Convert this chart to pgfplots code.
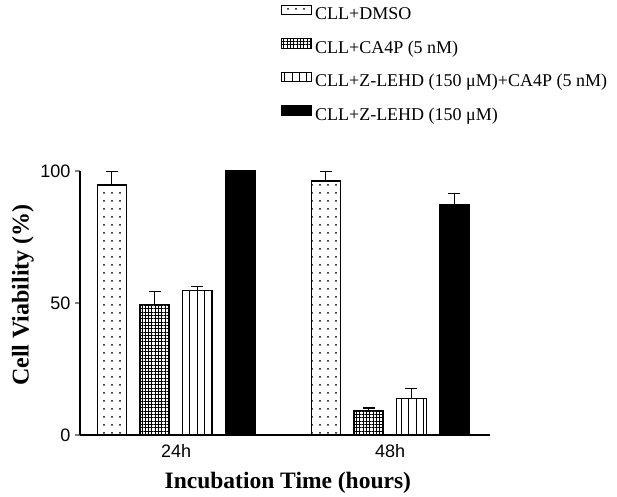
\documentclass[border=0pt]{standalone}
\usepackage{pgfplots}
\pgfplotsset{compat=1.18}
\usepackage{fontspec}
\setmainfont{Liberation Serif}
\newfontfamily\arial{Liberation Sans}
\usetikzlibrary{patterns.meta}
\begin{document}
\begin{tikzpicture}
\begin{axis}[
  width=410pt, height=264pt, scale only axis,
  xmin=-0.449, xmax=1.467, ymin=0, ymax=100,
  axis lines*=left, axis line style={line width=1.2pt, -},
  clip=false,
  xtick={0,1}, xticklabels={24h,48h},
  ytick={0,50,100},
  tick align=outside,
  x tick style={draw=none},
  y tick style={line width=1.2pt},
  major tick length=5pt,
  /pgf/number format/assume math mode=true,
  ticklabel style={font=\arial\fontsize{18}{18}\selectfont},
  xticklabel style={yshift=-1pt},
  yticklabel style={xshift=-1pt},
  xlabel={Incubation Time (hours)},
  ylabel={Cell Viability (\%)},
  every axis x label/.style={at={(rel axis cs:0.507,0)}, yshift=-48pt, anchor=center,
    font=\bfseries\fontsize{23.5}{23.5}\selectfont},
  every axis y label/.style={at={(rel axis cs:0,0.53)}, xshift=-57pt, rotate=90, anchor=center,
    font=\bfseries\fontsize{24}{24}\selectfont},
  legend style={at={(rel axis cs:0.49,1.63)}, anchor=north west, draw=none, fill=none,
    inner sep=0pt, font=\fontsize{18}{20}\selectfont, row sep=15pt,
    legend cell align=left, nodes={inner xsep=3pt}},
  legend image code/.code={\draw[#1,line width=1pt] (0pt,-0.5pt) rectangle (30pt,9pt);},
  error bars/y dir=plus, error bars/y explicit,
  error bars/error mark options={rotate=90, mark size=6pt, line width=1.2pt},
  error bars/error bar style={line width=1.2pt},
]
\coordinate (O) at (rel axis cs:0,0);
\addplot[ybar, bar width=0.138, bar shift=0pt, draw=black, line width=1.2pt,
  pattern={Dots[distance=8pt, radius=1pt]}]
  coordinates {(-0.3,94.7) +- (0,5.0) (0.7,96.2) +- (0,3.5)};
\addplot[ybar, bar width=0.138, bar shift=0pt, draw=black, line width=1.2pt,
  pattern={Hatch[angle=0, distance=3.3pt, line width=0.8pt]}]
  coordinates {(-0.1,49.5) +- (0,4.9) (0.9,9.3) +- (0,0.9)};
\addplot[ybar, bar width=0.138, bar shift=0pt, draw=black, line width=1.2pt,
  pattern={Lines[angle=90, distance=7.3pt, line width=0.9pt]}]
  coordinates {(0.1,54.8) +- (0,1.3) (1.1,13.8) +- (0,3.7)};
\addplot[ybar, bar width=0.138, bar shift=0pt, draw=black, line width=1.2pt,
  fill=black]
  coordinates {(0.3,100) +- (0,0) (1.3,87.1) +- (0,4.5)};
\legend{CLL+DMSO, CLL+CA4P (5 nM), CLL+Z-LEHD (150 μM)+CA4P (5 nM), CLL+Z-LEHD (150 μM)}
\end{axis}
\path (O) ++(-80pt,-57pt) rectangle ++(617pt,492pt);
\end{tikzpicture}
\end{document}
